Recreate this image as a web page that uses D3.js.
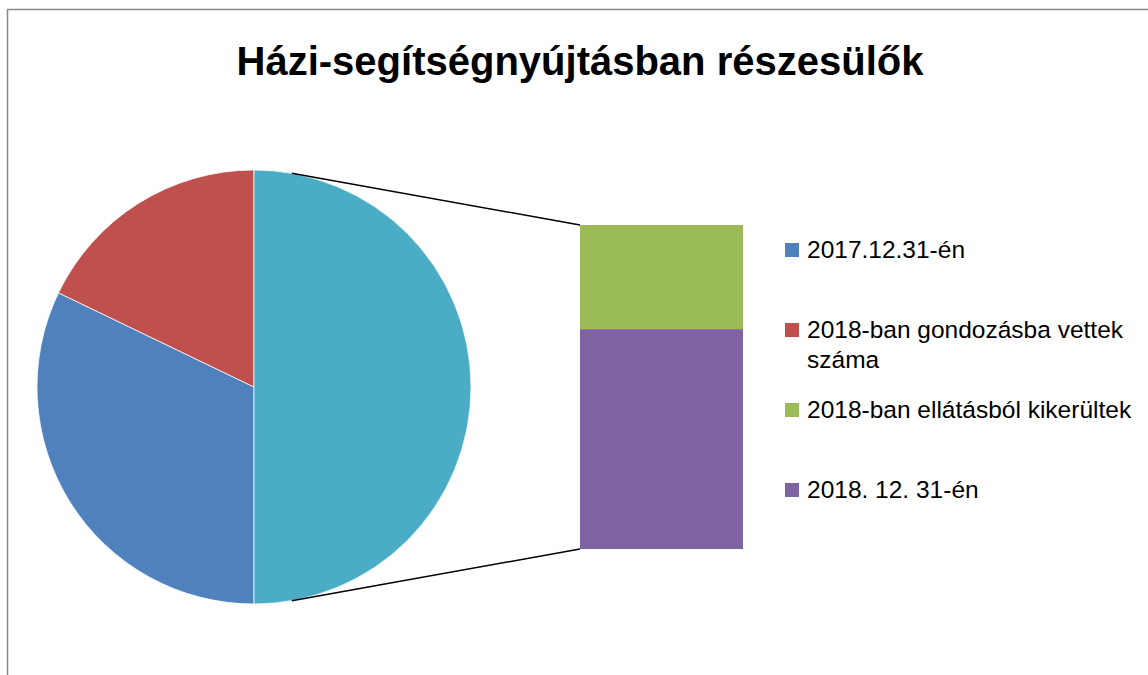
<!DOCTYPE html>
<html>
<head>
<meta charset="utf-8">
<script src="https://cdn.jsdelivr.net/npm/d3@7"></script>
<style>
  body { margin: 0; background: #fff; }
  svg { display: block; }
  text { font-family: "Liberation Sans", Arial, sans-serif; }
</style>
</head>
<body>
<svg width="1148" height="675"></svg>
<script>
const title = "Házi-segítségnyújtásban részesülők"
const categories = ["2017.12.31-én", "2018-ban gondozásba vettek száma", "2018-ban ellátásból kikerültek", "2018. 12. 31-én"]
const legendLines = [["2017.12.31-én"], ["2018-ban gondozásba vettek", "száma"], ["2018-ban ellátásból kikerültek"], ["2018. 12. 31-én"]]
const values = [36, 20, 18, 38]
const colors = ["#4F81BD", "#C0504D", "#9BBB59", "#8064A2"]
const otherColor = "#4BACC6"
// the last two values go into the bar
const splitAt = 2

const svg = d3.select("svg")

svg.append("rect")
  .attr("x", 7.5).attr("y", 9.5)
  .attr("width", 1200).attr("height", 800)
  .attr("fill", "none").attr("stroke", "#878787").attr("stroke-width", 1.5)

svg.append("text")
  .attr("x", 580).attr("y", 75)
  .attr("text-anchor", "middle")
  .attr("font-weight", "bold")
  .attr("font-size", 40)
  .text(title)

// pie: main slices + "other" slice on the right
const pieData = values.slice(0, splitAt).map((v, i) => ({v, color: colors[i]}))
pieData.push({v: d3.sum(values.slice(splitAt)), color: otherColor})

const cx = 254, cy = 387, r = 217
const total = d3.sum(pieData, d => d.v)
const otherShare = pieData[pieData.length - 1].v / total
const otherAngle = otherShare * 2 * Math.PI
// other slice sits centred on the right side (pi/2)
const startRot = Math.PI / 2 - otherAngle / 2

const pie = d3.pie().value(d => d.v).sort(null)
  .startAngle(startRot + otherAngle).endAngle(startRot + otherAngle + 2 * Math.PI)
const arcs = pie(pieData)
const arc = d3.arc().innerRadius(0).outerRadius(r)

const g = svg.append("g").attr("transform", `translate(${cx},${cy})`)
g.selectAll("path").data(arcs).join("path")
  .attr("d", d => {
    if (d.index === splitAt) return arc({startAngle: startRot, endAngle: startRot + otherAngle})
    return arc(d)
  })
  .attr("fill", d => d.data.color)
  .attr("stroke", "#fff").attr("stroke-width", 0.75)

// bar of the split values
const barX = 580, barW = 163, barTop = 225, barBottom = 549
const y = d3.scaleLinear().domain([0, d3.sum(values.slice(splitAt))]).range([barTop, barBottom])
const barVals = values.slice(splitAt)
let acc = 0
const stacks = barVals.map((v, i) => { const s = {y0: acc, y1: acc + v, color: colors[splitAt + i]}; acc += v; return s })
svg.selectAll(".bar").data(stacks).join("rect")
  .attr("class", "bar")
  .attr("x", barX).attr("width", barW)
  .attr("y", d => y(d.y0)).attr("height", d => y(d.y1) - y(d.y0))
  .attr("fill", d => d.color)

// connector lines
const a1 = startRot + 0.175, a2 = startRot + otherAngle - 0.175
const p = a => [cx + r * Math.sin(a), cy - r * Math.cos(a)]
const lines = [[p(a1), [barX, y(0)]], [p(a2), [barX, y(acc)]]]
svg.selectAll(".conn").data(lines).join("line")
  .attr("class", "conn")
  .attr("x1", d => d[0][0]).attr("y1", d => d[0][1])
  .attr("x2", d => d[1][0]).attr("y2", d => d[1][1])
  .attr("stroke", "#000").attr("stroke-width", 1.5)

// legend
const baselines = [258, 338, 418, 498]
const lg = svg.selectAll(".lg").data(categories).join("g").attr("class", "lg")
  .attr("transform", (d, i) => `translate(785,${baselines[i]})`)
lg.append("rect").attr("x", 0).attr("y", -15).attr("width", 14).attr("height", 14)
  .attr("fill", (d, i) => colors[i])
lg.append("text").attr("x", 22).attr("font-size", 24.5).attr("fill", "#000")
  .selectAll("tspan").data((d, i) => legendLines[i]).join("tspan")
  .attr("x", 22).attr("dy", (d, j) => j === 0 ? 0 : 30)
  .text(d => d)
</script>
</body>
</html>
